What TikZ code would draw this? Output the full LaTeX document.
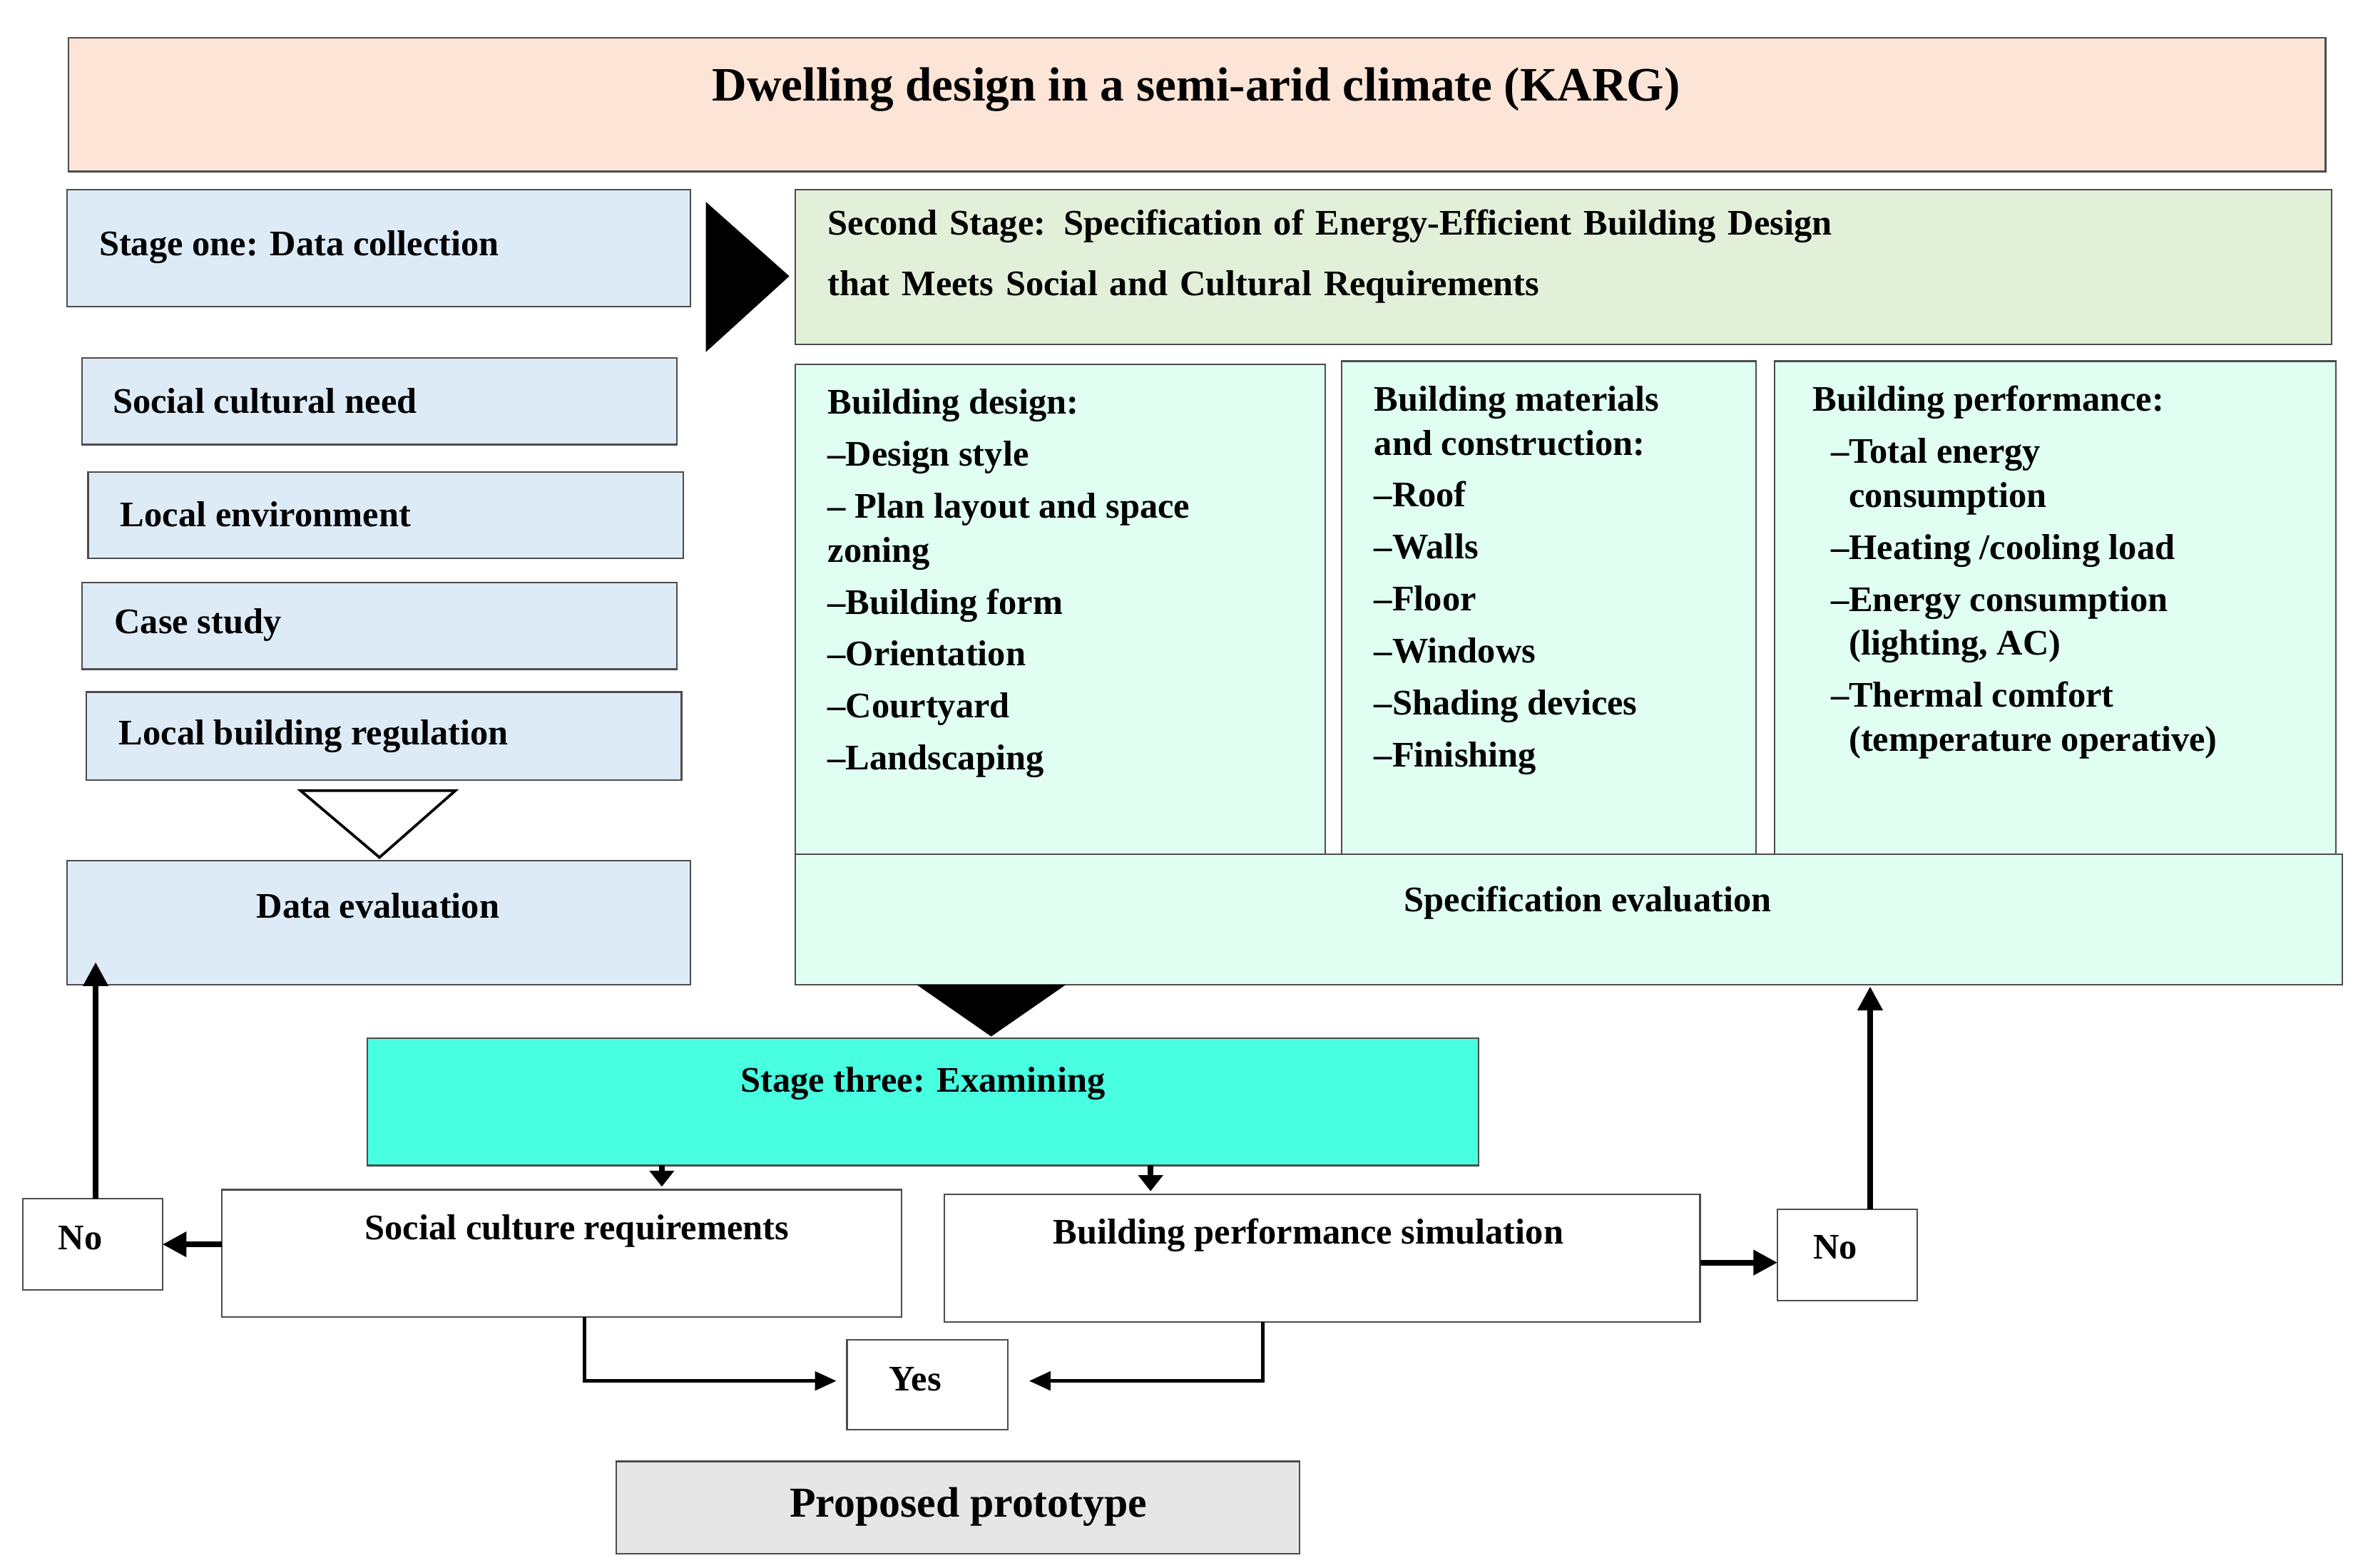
\documentclass[tikz,border=0pt]{standalone}
\usepackage{fontspec}
\setmainfont{Liberation Serif}
\usetikzlibrary{arrows.meta}
\definecolor{peach}{RGB}{252,228,214}
\definecolor{lblue}{RGB}{221,235,247}
\definecolor{lgreen}{RGB}{226,240,217}
\definecolor{mint}{RGB}{224,255,242}
\definecolor{aqua}{RGB}{72,255,225}
\definecolor{lgray}{RGB}{230,230,230}
\begin{document}
\begin{tikzpicture}[x=0.02cm,y=-0.02cm,
  box/.style={draw=black!70,line width=0.6pt},
  txt/.style={font=\bfseries\fontsize{13.5}{18.5}\selectfont,inner sep=0pt,align=left},
  arr/.style={line width=2.2pt,-{Triangle[length=9pt,width=9pt]}},
  thin/.style={line width=1.2pt,-{Triangle[length=8pt,width=7pt]}}]
\useasboundingbox (0,0) rectangle (1560,1033);
\fill[white] (0,0) rectangle (1560,1033);
% title
\draw[box,fill=peach] (45,25) rectangle (1532,113);
\node[font=\bfseries\fontsize{18}{22}\selectfont] (title) at (788,59) {Dwelling design in a semi-arid climate (KARG)};
% stage one
\draw[box,fill=lblue] (44,125) rectangle (455,202);
\node[txt,anchor=west] (s1) at (65,163) {Stage one: Data collection};
\fill (465,133) -- (520,182) -- (465,232) -- cycle;
\draw[box,fill=lgreen] (524,125) rectangle (1536,227);
\node[txt,anchor=north west,text width=960] (s2) at (545,138) {Second Stage: Specification of Energy-Efficient Building Design\\[4pt]that Meets Social and Cultural Requirements};
% left items
\draw[box,fill=lblue] (54,236) rectangle (446,293);
\node[txt,anchor=west] (a1) at (74,264) {Social cultural need};
\draw[box,fill=lblue] (58,311) rectangle (450,368);
\node[txt,anchor=west] (a2) at (79,339) {Local environment};
\draw[box,fill=lblue] (54,384) rectangle (446,441);
\node[txt,anchor=west] (a3) at (75,412) {Case study};
\draw[box,fill=lblue] (57,456) rectangle (449,514);
\node[txt,anchor=west] (a4) at (78,485) {Local building regulation};
\draw[line width=1pt] (198,521) -- (300,521) -- (250,565) -- cycle;
\draw[box,fill=lblue] (44,567) rectangle (455,649);
\node[txt] (de) at (249,597) {Data evaluation};
% columns
\draw[box,fill=mint] (524,240) rectangle (873,563);
\node[txt,anchor=north west] (c1) at (545,256) {Building design:\\[1pt]--Design style\\[1pt]-- Plan layout and space\\[-2pt]zoning\\[1pt]--Building form\\[1pt]--Orientation\\[1pt]--Courtyard\\[1pt]--Landscaping};
\draw[box,fill=mint] (884,238) rectangle (1157,563);
\node[txt,anchor=north west] (c2) at (905,254) {Building materials\\[-2pt]and construction:\\[1pt]--Roof\\[1pt]--Walls\\[1pt]--Floor\\[1pt]--Windows\\[1pt]--Shading devices\\[1pt]--Finishing};
\draw[box,fill=mint] (1169,238) rectangle (1539,563);
\node[txt,anchor=north west] (c3) at (1194,254) {Building performance:\\[1pt]\ \ --Total energy\\[-2pt]\ \ \ \ consumption\\[1pt]\ \ --Heating /cooling load\\[1pt]\ \ --Energy consumption\\[-2pt]\ \ \ \ (lighting, AC)\\[1pt]\ \ --Thermal comfort\\[-2pt]\ \ \ \ (temperature operative)};
\draw[box,fill=mint] (524,563) rectangle (1543,649);
\node[txt] (se) at (1046,595) {Specification evaluation};
\fill (604,649) -- (702,649) -- (653,683) -- cycle;
% stage three
\draw[box,fill=aqua] (242,684) rectangle (974,768);
\node[txt] (s3) at (608,714) {Stage three: Examining};
\draw[box] (146,784) rectangle (594,868);
\node[txt] (sc) at (380,811) {Social culture requirements};
\draw[box] (622,787) rectangle (1120,871);
\node[txt] (bp) at (862,814) {Building performance simulation};
\coordinate (d1) at (436,768); \coordinate (d1e) at (436,782);
\coordinate (d2) at (758,768); \coordinate (d2e) at (758,785);
\draw[line width=2pt,-{Triangle[length=6pt,width=9pt]}] (d1) -- (d1e);
\draw[line width=2pt,-{Triangle[length=6pt,width=9pt]}] (d2) -- (d2e);
\draw[box] (15,790) rectangle (107,850);
\node[txt] (no1) at (53,816) {No};
\draw[box] (1171,797) rectangle (1263,857);
\node[txt] (no2) at (1209,822) {No};
\draw[box] (558,883) rectangle (664,942);
\node[txt] (yes) at (603,909) {Yes};
\draw[box,fill=lgray] (406,963) rectangle (856,1024);
\node[font=\bfseries\fontsize{16}{20}\selectfont] (pp) at (638,993) {Proposed prototype};
% arrows
\coordinate (n1t) at (63,790); \coordinate (det) at (63,634);
\draw[arr] (n1t) -- (det);
\coordinate (scl) at (146,820); \coordinate (n1r) at (107,820);
\draw[arr] (scl) -- (n1r);
\coordinate (bpr) at (1120,832); \coordinate (n2l) at (1171,832);
\draw[arr] (bpr) -- (n2l);
\coordinate (n2t) at (1232,797); \coordinate (seb) at (1232,650);
\draw[arr] (n2t) -- (seb);
\coordinate (scb) at (385,868); \coordinate (yl) at (551,910);
\draw[thin] (scb) |- (yl);
\coordinate (bpb) at (832,871); \coordinate (yr) at (678,910);
\draw[thin] (bpb) |- (yr);
\end{tikzpicture}
\end{document}
